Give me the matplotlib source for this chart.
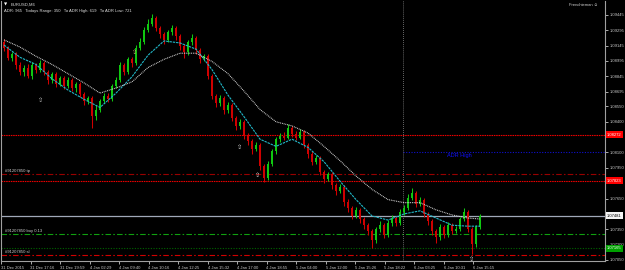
import matplotlib
matplotlib.use("Agg")
import matplotlib.pyplot as plt
from matplotlib.transforms import blended_transform_factory

plt.rcParams['font.family'] = ['Liberation Sans', 'DejaVu Sans']

# EURUSD M6 candles (bar 0 = leftmost)
opens = [1.0918, 1.0912, 1.0902, 1.0906, 1.0895, 1.0889, 1.0893, 1.0885, 1.0895, 1.0891,
         1.0897, 1.0889, 1.0881, 1.0887, 1.0877, 1.0883, 1.0875, 1.0881, 1.0873, 1.0877,
         1.0867, 1.0860, 1.0863, 1.0846, 1.0852, 1.0860, 1.0865, 1.0862, 1.0875, 1.0881,
         1.0895, 1.0889, 1.0901, 1.0897, 1.0912, 1.0918, 1.0930, 1.0936, 1.0941, 1.0932,
         1.0926, 1.0920, 1.0928, 1.0932, 1.0924, 1.0914, 1.0908, 1.0918, 1.0922, 1.0910,
         1.0901, 1.0904, 1.0885, 1.0865, 1.0858, 1.0863, 1.0852, 1.0856, 1.0844, 1.0836,
         1.0840, 1.0826, 1.0821, 1.0813, 1.0817, 1.0797, 1.0785, 1.0799, 1.0811, 1.0823,
         1.0826, 1.0824, 1.0834, 1.0828, 1.0824, 1.0830, 1.0817, 1.0809, 1.0801, 1.0805,
         1.0791, 1.0784, 1.0789, 1.0778, 1.0772, 1.0776, 1.0762, 1.0756, 1.0748, 1.0754,
         1.0745, 1.0739, 1.0733, 1.0725, 1.0735, 1.0739, 1.0729, 1.0741, 1.0746, 1.0741,
         1.0752, 1.0756, 1.0766, 1.0770, 1.0760, 1.0764, 1.0750, 1.0743, 1.0733, 1.0727,
         1.0737, 1.0729, 1.0739, 1.0733, 1.0735, 1.0745, 1.0752, 1.0735, 1.0721, 1.0737]
highs = [1.0921, 1.0914, 1.0908, 1.0908, 1.0898, 1.0895, 1.0896, 1.0898, 1.0897, 1.0900,
         1.0899, 1.0891, 1.0889, 1.0889, 1.0885, 1.0885, 1.0884, 1.0883, 1.0879, 1.0879,
         1.0869, 1.0865, 1.0865, 1.0856, 1.0862, 1.0868, 1.0868, 1.0877, 1.0884, 1.0898,
         1.0897, 1.0903, 1.0903, 1.0915, 1.0922, 1.0933, 1.0940, 1.0945, 1.0943, 1.0934,
         1.0928, 1.0930, 1.0935, 1.0934, 1.0926, 1.0916, 1.0920, 1.0926, 1.0924, 1.0912,
         1.0906, 1.0906, 1.0887, 1.0867, 1.0866, 1.0865, 1.0859, 1.0858, 1.0846, 1.0843,
         1.0842, 1.0829, 1.0823, 1.0820, 1.0819, 1.0799, 1.0802, 1.0813, 1.0825, 1.0829,
         1.0830, 1.0838, 1.0836, 1.0831, 1.0833, 1.0832, 1.0819, 1.0811, 1.0808, 1.0807,
         1.0793, 1.0791, 1.0791, 1.0780, 1.0779, 1.0778, 1.0765, 1.0758, 1.0757, 1.0756,
         1.0747, 1.0741, 1.0735, 1.0737, 1.0743, 1.0741, 1.0744, 1.0749, 1.0748, 1.0755,
         1.0759, 1.0769, 1.0775, 1.0772, 1.0767, 1.0766, 1.0752, 1.0745, 1.0735, 1.0740,
         1.0739, 1.0742, 1.0741, 1.0738, 1.0747, 1.0756, 1.0754, 1.0737, 1.0739, 1.0750]
lows = [1.0909, 1.0900, 1.0899, 1.0892, 1.0886, 1.0885, 1.0883, 1.0882, 1.0888, 1.0889,
        1.0886, 1.0877, 1.0878, 1.0874, 1.0875, 1.0872, 1.0873, 1.0870, 1.0869, 1.0864,
        1.0856, 1.0857, 1.0834, 1.0842, 1.0850, 1.0858, 1.0859, 1.0860, 1.0873, 1.0879,
        1.0886, 1.0887, 1.0894, 1.0895, 1.0910, 1.0916, 1.0928, 1.0934, 1.0929, 1.0922,
        1.0916, 1.0918, 1.0925, 1.0920, 1.0910, 1.0902, 1.0905, 1.0915, 1.0906, 1.0897,
        1.0899, 1.0882, 1.0862, 1.0854, 1.0855, 1.0848, 1.0849, 1.0841, 1.0832, 1.0833,
        1.0823, 1.0817, 1.0809, 1.0811, 1.0793, 1.0781, 1.0783, 1.0797, 1.0809, 1.0820,
        1.0822, 1.0823, 1.0825, 1.0822, 1.0823, 1.0814, 1.0805, 1.0798, 1.0799, 1.0788,
        1.0780, 1.0782, 1.0774, 1.0768, 1.0770, 1.0758, 1.0752, 1.0745, 1.0746, 1.0741,
        1.0735, 1.0729, 1.0717, 1.0722, 1.0732, 1.0726, 1.0727, 1.0738, 1.0738, 1.0739,
        1.0749, 1.0754, 1.0764, 1.0757, 1.0758, 1.0747, 1.0739, 1.0729, 1.0722, 1.0725,
        1.0726, 1.0727, 1.0730, 1.0731, 1.0733, 1.0743, 1.0732, 1.0711, 1.0718, 1.0735]
closes = [1.0912, 1.0902, 1.0906, 1.0895, 1.0889, 1.0893, 1.0885, 1.0895, 1.0891, 1.0897,
          1.0889, 1.0881, 1.0887, 1.0877, 1.0883, 1.0875, 1.0881, 1.0873, 1.0877, 1.0867,
          1.0860, 1.0863, 1.0846, 1.0852, 1.0860, 1.0865, 1.0862, 1.0875, 1.0881, 1.0895,
          1.0889, 1.0901, 1.0897, 1.0912, 1.0918, 1.0930, 1.0936, 1.0941, 1.0932, 1.0926,
          1.0920, 1.0928, 1.0932, 1.0924, 1.0914, 1.0908, 1.0918, 1.0922, 1.0910, 1.0901,
          1.0904, 1.0885, 1.0865, 1.0858, 1.0863, 1.0852, 1.0856, 1.0844, 1.0836, 1.0840,
          1.0826, 1.0821, 1.0813, 1.0817, 1.0797, 1.0785, 1.0799, 1.0811, 1.0823, 1.0826,
          1.0824, 1.0834, 1.0828, 1.0824, 1.0830, 1.0817, 1.0809, 1.0801, 1.0805, 1.0791,
          1.0784, 1.0789, 1.0778, 1.0772, 1.0776, 1.0762, 1.0756, 1.0748, 1.0754, 1.0745,
          1.0739, 1.0733, 1.0725, 1.0735, 1.0739, 1.0729, 1.0741, 1.0746, 1.0741, 1.0752,
          1.0756, 1.0766, 1.0770, 1.0760, 1.0764, 1.0750, 1.0743, 1.0733, 1.0727, 1.0737,
          1.0729, 1.0739, 1.0733, 1.0735, 1.0745, 1.0752, 1.0735, 1.0721, 1.0737, 1.0748]

# moving averages, read every 4th bar
ma_bars = [0, 4, 8, 12, 16, 20, 24, 28, 32, 36, 40, 44, 48, 52, 56, 60, 64, 68, 72, 76,
           80, 84, 88, 92, 96, 100, 104, 108, 112, 116, 119]
ma_fast = [1.0915, 1.0903, 1.0896, 1.0882, 1.0871, 1.0862, 1.0854, 1.0868, 1.0884, 1.0905,
           1.0919, 1.0917, 1.0911, 1.0891, 1.0866, 1.0845, 1.0823, 1.0816, 1.0823, 1.0815,
           1.0801, 1.0782, 1.0764, 1.0748, 1.0744, 1.0750, 1.0753, 1.0746, 1.0739, 1.0738, 1.0738]
ma_slow = [1.0920, 1.0913, 1.0904, 1.0896, 1.0887, 1.0878, 1.0868, 1.0873, 1.0879, 1.0893,
           1.0901, 1.0907, 1.0907, 1.0899, 1.0887, 1.0870, 1.0852, 1.0840, 1.0836, 1.0829,
           1.0816, 1.0802, 1.0787, 1.0774, 1.0764, 1.0761, 1.0761, 1.0754, 1.0749, 1.0746, 1.0745]

date_labels = ['31 Dec 2015', '31 Dec 17:16', '31 Dec 19:59', '4 Jan 02:29', '4 Jan 09:40',
               '4 Jan 10:16', '4 Jan 12:25', '4 Jan 15:32', '4 Jan 17:00', '4 Jan 18:55',
               '5 Jan 04:00', '5 Jan 12:00', '5 Jan 15:26', '5 Jan 18:22', '6 Jan 03:25',
               '6 Jan 10:31', '6 Jan 15:15']
# scale labels that are not covered by a coloured price tag
price_ticks = [1.09445, 1.09295, 1.09145, 1.08995, 1.08845, 1.08695, 1.08550, 1.08400,
               1.08100, 1.07950, 1.07650, 1.07350, 1.07200, 1.07050]

# levels
day_high = 1.08272
day_low = 1.07823
adr_high = 1.08100
bid = 1.07481
adr_low = 1.07165
order_tp = 1.07890
order_open = 1.07300
order_sl = 1.07095
day_split = 99.75

arrow_bars = [9.25, 32.75, 59, 63.5, 117]
arrow_prices = [1.0861, 1.0908, 1.0815, 1.0788, 1.0705]
arrow_colors = ['#c8c8c8', '#d8b078', '#e0e0e0', '#e0e0e0', '#e0e0e0']

fig = plt.figure(figsize=(6.25, 2.7), dpi=100, facecolor='black')
ax = fig.add_axes([1 / 625, 9 / 270, 604 / 625, 260 / 270], facecolor='black')
ax.set_xlim(-0.75, 150.25)
ax.set_ylim(1.0704, 1.0958)
yt = blended_transform_factory(ax.transAxes, ax.transData)

# horizontal levels
ax.axhline(day_high, color='#e80000', lw=0.8, linestyle=(0, (1.4, 0.7)))
ax.axhline(day_low, color='#e80000', lw=0.8, linestyle=(0, (1.4, 0.7)))
ax.hlines(adr_high, day_split, 150.25, color='#1010d0', lw=0.8, linestyle=(0, (1.0, 1.4)))
ax.axhline(order_tp, color='#980000', lw=0.8, linestyle=(0, (5, 2, 1.4, 2)))
ax.axhline(order_open, color='#10a010', lw=0.8, linestyle=(0, (5, 2, 1.4, 2)))
ax.axhline(adr_low, color='#006400', lw=0.8, linestyle=(0, (1.0, 1.4)))
ax.axhline(order_sl, color='#d00000', lw=0.8, linestyle=(0, (5, 2, 1.4, 2)))
ax.axhline(bid, color='#a0a8b8', lw=0.9)
ax.axvline(day_split, color='#909090', lw=0.7, linestyle=(0, (0.7, 1.4)))

# candles
x = list(range(len(closes)))
cols = ['#10c810' if c >= o else '#d00000' for o, c in zip(opens, closes)]
ax.vlines(x, lows, highs, colors=cols, lw=0.75, zorder=3)
ax.bar(x, [abs(c - o) for o, c in zip(opens, closes)],
       bottom=[min(o, c) for o, c in zip(opens, closes)],
       width=0.65, color=cols, lw=0, zorder=3)

# moving averages
ax.plot(ma_bars, ma_fast, color='#20b8c8', lw=0.8, linestyle=(0, (2.2, 0.8)), zorder=4)
ax.plot(ma_bars, ma_slow, color='#d8d8d8', lw=0.8, linestyle=(0, (0.8, 0.8)), zorder=4)

for b, p, c in zip(arrow_bars, arrow_prices, arrow_colors):
    ax.text(b, p, '\u21e7', color=c, fontsize=4.5, ha='center', va='center',
            family='DejaVu Sans', zorder=5)

ax.text(110.75, adr_high - 0.0003, 'ADR High', color='#1010ff', fontsize=4, va='center')

# order labels
for lvl, txt in [(order_tp, '#91207850 tp'), (order_open, '#91207850 buy 0.13'),
                 (order_sl, '#91207850 sl')]:
    ax.text(0.006, lvl + 0.0001, txt, transform=yt, color='#d0d0d0', fontsize=3, va='bottom')

# axes styling
for s in ax.spines.values():
    s.set_color('#a0a0a0')
    s.set_linewidth(0.8)
ax.spines['top'].set_visible(False)

ax.yaxis.tick_right()
ax.set_yticks(price_ticks)
ax.set_yticklabels(['%.5f' % p for p in price_ticks])
ax.tick_params(axis='y', colors='#c8c8c8', labelsize=3, length=2, width=0.6, pad=1.5)

ax.set_xticks([-0.75 + k * 7.375 for k in range(len(date_labels))])
ax.set_xticklabels(date_labels)
for lbl in ax.get_xticklabels():
    lbl.set_ha('left')
ax.tick_params(axis='x', colors='#c8c8c8', labelsize=3, length=2.5, width=0.6, pad=1)

# coloured price tags on the right
for lvl, fc, tc in [(day_high, '#ff0000', 'white'), (day_low, '#ff0000', 'white'),
                    (bid, '#f4f4f4', 'black'), (adr_low, '#00a000', 'white')]:
    ax.text(1.0 + 2 / 604, lvl, '%.5f' % lvl, transform=yt, color=tc, fontsize=3,
            ha='left', va='center', clip_on=False, zorder=6,
            bbox=dict(boxstyle='square,pad=0.35', fc=fc, ec='none'))

# header texts
fig.text(4 / 625, 1 - 5 / 270, '\u25bc', color='white', fontsize=3, va='center',
         family='DejaVu Sans')
fig.text(11 / 625, 1 - 5 / 270, 'EURUSD,M6', color='#e0e0e0', fontsize=3, va='center')
fig.text(4 / 625, 1 - 11 / 270,
         'ADR: 965   Todays Range: 350   To ADR High: 619   To ADR Low: 721',
         color='#e0e0e0', fontsize=3, va='center')
fig.text(598 / 625, 1 - 5 / 270, 'Frenchieman \u263a', color='#d0d0d0', fontsize=3,
         ha='right', va='center', family=['Liberation Sans', 'DejaVu Sans'])

fig.savefig('out.png', dpi=100, facecolor='black')
